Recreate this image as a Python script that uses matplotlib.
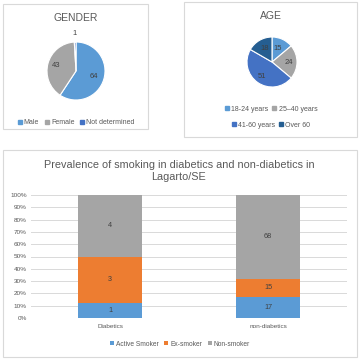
import numpy as np
import matplotlib
matplotlib.use("Agg")
import matplotlib.pyplot as plt
from matplotlib.patches import Rectangle
from matplotlib.lines import Line2D

plt.rcParams['font.family'] = ['Liberation Sans', 'DejaVu Sans']

# data
gender_labels = ["Male", "Female", "Not determined"]
gender_values = [64, 43, 1]
gender_colors = ["#5B9BD5", "#A5A5A5", "#4472C4"]

age_labels = ["18-24 years", "25\u201340 years", "41-60 years", "Over 60"]
age_values = [15, 24, 51, 18]
age_colors = ["#5B9BD5", "#A5A5A5", "#4472C4", "#255E91"]

groups = ["Diabetics", "non-diabetics"]
smoke_labels = ["Active Smoker", "Ex-smoker", "Non-smoker"]
smoke_counts = {
    "Active Smoker": [1, 17],
    "Ex-smoker": [3, 15],
    "Non-smoker": [4, 68],
}
smoke_colors = ["#5B9BD5", "#ED7D31", "#A5A5A5"]
yticks = np.arange(0, 1.01, 0.1)

W = H = 359
fig = plt.figure(figsize=(W / 100, H / 100), dpi=100)
fig.patch.set_facecolor("white")
txt = "#595959"


def px_axes(x0, y0, x1, y1):
    return fig.add_axes([x0 / W, 1 - y1 / H, (x1 - x0) / W, (y1 - y0) / H])


def fx(x):
    return x / W


def fy(y):
    return 1 - y / H


# panel borders
for (x0, y0, x1, y1) in [(3, 4, 148, 129), (184, 2, 357, 137), (3, 150, 357, 357)]:
    fig.patches.append(Rectangle((fx(x0), fy(y1)), fx(x1 - x0), (y1 - y0) / H,
                                 transform=fig.transFigure, fill=False,
                                 edgecolor="#D9D9D9", linewidth=0.8))


def draw_pie(cx, cy, r, values, colors, dists):
    ax = px_axes(cx - r, cy - r, cx + r, cy + r)
    wedges, _ = ax.pie(values, colors=colors, startangle=90, counterclock=False,
                       wedgeprops=dict(edgecolor="white", linewidth=0.8))
    for w, v, d in zip(wedges, values, dists):
        a = np.deg2rad((w.theta1 + w.theta2) / 2)
        ax.text(d * np.cos(a), d * np.sin(a), str(v), ha="center", va="center",
                fontsize=5.5, color="#404040")
    ax.set_xlim(-1, 1)
    ax.set_ylim(-1, 1)
    ax.axis("off")
    return ax


# GENDER
fig.text(fx(76), fy(18), "GENDER", ha="center", va="center", fontsize=7.5, color=txt)
draw_pie(76, 71, 29, gender_values, gender_colors, [0.66, 0.7, 1.3])
handles = [Line2D([], [], marker="s", linestyle="", markersize=2.5, color=c) for c in gender_colors]
fig.legend(handles, gender_labels, loc="center", bbox_to_anchor=(fx(76), fy(123)),
           ncol=3, frameon=False, fontsize=5, handlelength=0.6, handletextpad=0.3,
           columnspacing=0.8, labelcolor=txt)

# AGE
fig.text(fx(271), fy(16), "AGE", ha="center", va="center", fontsize=7.5, color=txt)
draw_pie(272, 62, 25, age_values, age_colors, [0.58, 0.68, 0.72, 0.62])
handles = [Line2D([], [], marker="s", linestyle="", markersize=2.5, color=c) for c in age_colors]
fig.legend(handles[:2], age_labels[:2], loc="center", bbox_to_anchor=(fx(271), fy(109)),
           ncol=2, frameon=False, fontsize=5, handlelength=0.6, handletextpad=0.3,
           columnspacing=0.6, labelcolor=txt)
fig.legend(handles[2:], age_labels[2:], loc="center", bbox_to_anchor=(fx(271), fy(125)),
           ncol=2, frameon=False, fontsize=5, handlelength=0.6, handletextpad=0.3,
           columnspacing=0.6, labelcolor=txt)

# stacked 100% bars
fig.text(fx(179), fy(171), "Prevalence of smoking in diabetics and non-diabetics in\nLagarto/SE",
         ha="center", va="center", fontsize=7.8, color=txt, linespacing=1.25)
ax = px_axes(31, 195, 347, 318)
x = np.arange(len(groups))
totals = np.sum([smoke_counts[k] for k in smoke_labels], axis=0)
bottom = np.zeros(len(groups))
for lab, col in zip(smoke_labels, smoke_colors):
    vals = np.array(smoke_counts[lab]) / totals
    ax.bar(x, vals, 0.4, bottom=bottom, color=col, label=lab, zorder=3)
    for xi, b, v, n in zip(x, bottom, vals, smoke_counts[lab]):
        ax.text(xi, b + v / 2, str(n), ha="center", va="center", fontsize=5.2,
                color="#404040", zorder=4)
    bottom += vals
ax.set_xlim(-0.5, 1.5)
ax.set_ylim(0, 1)
ax.set_yticks(yticks)
ax.set_yticklabels([f"{int(round(t * 100))}%" for t in yticks])
ax.set_xticks(x)
ax.set_xticklabels(groups)
ax.tick_params(length=0, labelsize=4.6, colors=txt, pad=3)
ax.tick_params(axis="x", pad=4)
ax.grid(axis="y", color="#D9D9D9", linewidth=0.7, zorder=0)
for s in ax.spines.values():
    s.set_visible(False)
fig.legend(*ax.get_legend_handles_labels(), loc="center", bbox_to_anchor=(fx(180), fy(344)),
           ncol=3, frameon=False, fontsize=4.8, handlelength=0.6, handleheight=0.6,
           handletextpad=0.3, columnspacing=0.8, labelcolor=txt)

fig.savefig("out.png", dpi=100, facecolor="white")
